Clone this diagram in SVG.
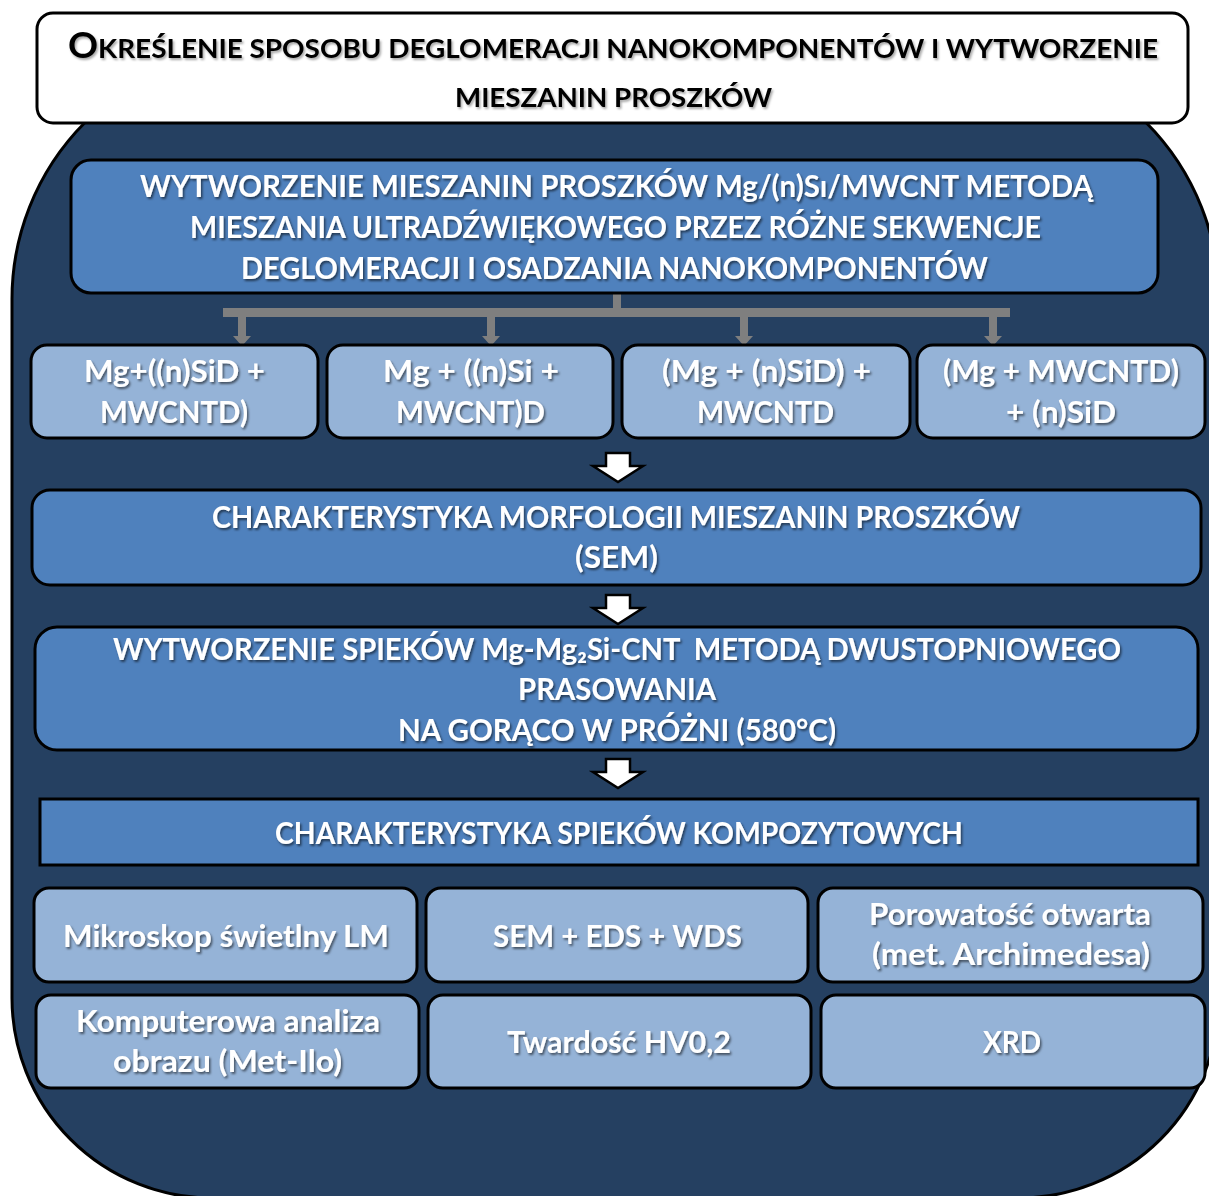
<svg xmlns="http://www.w3.org/2000/svg" width="1209" height="1196" viewBox="0 0 1209 1196">
<defs>
<style>
.bg{fill:#254061;stroke:#000;stroke-width:3}
.hdr{fill:#fff;stroke:#000;stroke-width:3}
.mb{fill:#4F81BD;stroke:#000;stroke-width:3}
.lb{fill:#95B3D7;stroke:#000;stroke-width:3}
.t{font-family:Lato,"Open Sans","Liberation Sans",sans-serif;font-weight:700;font-size:29.5px;fill:#fff;text-anchor:middle;filter:url(#ts)}
.ht{font-family:Lato,"Open Sans","Liberation Sans",sans-serif;font-weight:700;font-size:27px;fill:#000;text-anchor:middle;filter:url(#hs)}
.conn{stroke:#7F7F7F;stroke-width:8;fill:none}
.bar{stroke:#7F7F7F;stroke-width:9;fill:none}
.barrow{fill:#fff;stroke:#000;stroke-width:2.5;stroke-linejoin:miter}
</style>
<filter id="ts" x="-5%" y="-20%" width="110%" height="150%">
<feDropShadow dx="1.5" dy="2" stdDeviation="1" flood-color="#000" flood-opacity="0.55"/>
</filter>
<filter id="hs" x="-5%" y="-20%" width="110%" height="150%">
<feDropShadow dx="1.5" dy="2" stdDeviation="1.2" flood-color="#000" flood-opacity="0.35"/>
</filter>
<marker id="ah" markerUnits="userSpaceOnUse" markerWidth="10" markerHeight="18" refX="0" refY="9" orient="auto">
<path d="M0,0 L10,9 L0,18 Z" fill="#7F7F7F"/>
</marker>
</defs>

<g id="background">
<path class="bg" d="M262,49 H969 A250,250 0 0 1 1219,299 V998 A200,200 0 0 1 1019,1198 H212 A200,200 0 0 1 12,998 V299 A250,250 0 0 1 262,49 Z"/>
</g>

<g id="header">
<rect class="hdr" x="37" y="13" width="1151" height="110" rx="16"/>
<text class="ht" x="613" y="58" textLength="1090" lengthAdjust="spacingAndGlyphs"><tspan font-size="36">O</tspan>KREŚLENIE SPOSOBU DEGLOMERACJI NANOKOMPONENTÓW I WYTWORZENIE</text>
<text class="ht" x="613.5" y="107" textLength="317" lengthAdjust="spacingAndGlyphs">MIESZANIN PROSZKÓW</text>
</g>

<g id="connectors">
<path class="conn" d="M617,293 V313"/>
<path class="bar" d="M223,312.5 H1010"/>
<path class="conn" d="M242,313 V336" marker-end="url(#ah)"/>
<path class="conn" d="M491,313 V336" marker-end="url(#ah)"/>
<path class="conn" d="M744,313 V336" marker-end="url(#ah)"/>
<path class="conn" d="M993,313 V336" marker-end="url(#ah)"/>
<path class="barrow" d="M606,453 H630 V466 H643 L618,482 L593,466 H606 Z"/>
<path class="barrow" d="M606,595 H630 V608 H643 L618,624 L593,608 H606 Z"/>
<path class="barrow" d="M606,759 H630 V772 H643 L618,788 L593,772 H606 Z"/>
</g>

<g id="node-main">
<rect class="mb" x="71" y="160" width="1087" height="133" rx="20"/>
<text class="t" x="616.5" y="197" textLength="953" lengthAdjust="spacingAndGlyphs">WYTWORZENIE MIESZANIN PROSZKÓW Mg/(n)Sı/MWCNT METODĄ</text>
<text class="t" x="615.5" y="238" textLength="851" lengthAdjust="spacingAndGlyphs">MIESZANIA ULTRADŹWIĘKOWEGO PRZEZ RÓŻNE SEKWENCJE</text>
<text class="t" x="614.5" y="279" textLength="747" lengthAdjust="spacingAndGlyphs">DEGLOMERACJI I OSADZANIA NANOKOMPONENTÓW</text>
</g>

<g id="node-a">
<rect class="lb" x="31" y="345" width="287" height="93" rx="16"/>
<text class="t" x="174.5" y="382" textLength="181" lengthAdjust="spacingAndGlyphs">Mg+((n)SiD +</text>
<text class="t" x="174" y="423" textLength="148" lengthAdjust="spacingAndGlyphs">MWCNTD)</text>
</g>
<g id="node-b">
<rect class="lb" x="327" y="345" width="286" height="93" rx="16"/>
<text class="t" x="471" y="382" textLength="176" lengthAdjust="spacingAndGlyphs">Mg + ((n)Si +</text>
<text class="t" x="470.5" y="423" textLength="149" lengthAdjust="spacingAndGlyphs">MWCNT)D</text>
</g>
<g id="node-c">
<rect class="lb" x="622" y="345" width="288" height="93" rx="16"/>
<text class="t" x="766.5" y="382" textLength="209" lengthAdjust="spacingAndGlyphs">(Mg + (n)SiD) +</text>
<text class="t" x="765.5" y="423" textLength="137" lengthAdjust="spacingAndGlyphs">MWCNTD</text>
</g>
<g id="node-d">
<rect class="lb" x="917" y="345" width="288" height="93" rx="16"/>
<text class="t" x="1061" y="382" textLength="236" lengthAdjust="spacingAndGlyphs">(Mg + MWCNTD)</text>
<text class="t" x="1061" y="423" textLength="110" lengthAdjust="spacingAndGlyphs">+ (n)SiD</text>
</g>

<g id="node-sem">
<rect class="mb" x="32" y="490" width="1169" height="95" rx="18"/>
<text class="t" x="616" y="528" textLength="808" lengthAdjust="spacingAndGlyphs">CHARAKTERYSTYKA MORFOLOGII MIESZANIN PROSZKÓW</text>
<text class="t" x="616.5" y="568" textLength="83" lengthAdjust="spacingAndGlyphs">(SEM)</text>
</g>

<g id="node-spieki">
<rect class="mb" x="35" y="627" width="1163" height="123" rx="22"/>
<text class="t" x="617" y="660" textLength="1008" lengthAdjust="spacingAndGlyphs" style="white-space:pre">WYTWORZENIE SPIEKÓW Mg-Mg₂Si-CNT  METODĄ DWUSTOPNIOWEGO</text>
<text class="t" x="617" y="700" textLength="198" lengthAdjust="spacingAndGlyphs">PRASOWANIA</text>
<text class="t" x="617" y="741" textLength="438" lengthAdjust="spacingAndGlyphs">NA GORĄCO W PRÓŻNI (580°C)</text>
</g>

<g id="node-char">
<rect class="mb" x="40" y="799" width="1158" height="66"/>
<text class="t" x="619" y="844" textLength="688" lengthAdjust="spacingAndGlyphs">CHARAKTERYSTYKA SPIEKÓW KOMPOZYTOWYCH</text>
</g>

<g id="node-lm">
<rect class="lb" x="34" y="888" width="383" height="94" rx="15"/>
<text class="t" x="226" y="947" textLength="326" lengthAdjust="spacingAndGlyphs">Mikroskop świetlny LM</text>
</g>
<g id="node-sem-eds">
<rect class="lb" x="426" y="888" width="382" height="94" rx="15"/>
<text class="t" x="617.5" y="947" textLength="249" lengthAdjust="spacingAndGlyphs">SEM + EDS + WDS</text>
</g>
<g id="node-porow">
<rect class="lb" x="818" y="888" width="385" height="94" rx="15"/>
<text class="t" x="1010" y="925" textLength="282" lengthAdjust="spacingAndGlyphs">Porowatość otwarta</text>
<text class="t" x="1011" y="965" textLength="278" lengthAdjust="spacingAndGlyphs">(met. Archimedesa)</text>
</g>
<g id="node-komp">
<rect class="lb" x="36" y="995" width="383" height="93" rx="15"/>
<text class="t" x="228" y="1032" textLength="304" lengthAdjust="spacingAndGlyphs">Komputerowa analiza</text>
<text class="t" x="227.5" y="1072" textLength="229" lengthAdjust="spacingAndGlyphs">obrazu (Met-Ilo)</text>
</g>
<g id="node-tward">
<rect class="lb" x="428" y="995" width="383" height="93" rx="15"/>
<text class="t" x="619" y="1053" textLength="224" lengthAdjust="spacingAndGlyphs">Twardość HV0,2</text>
</g>
<g id="node-xrd">
<rect class="lb" x="821" y="995" width="384" height="93" rx="15"/>
<text class="t" x="1012" y="1053" textLength="58" lengthAdjust="spacingAndGlyphs">XRD</text>
</g>
</svg>
